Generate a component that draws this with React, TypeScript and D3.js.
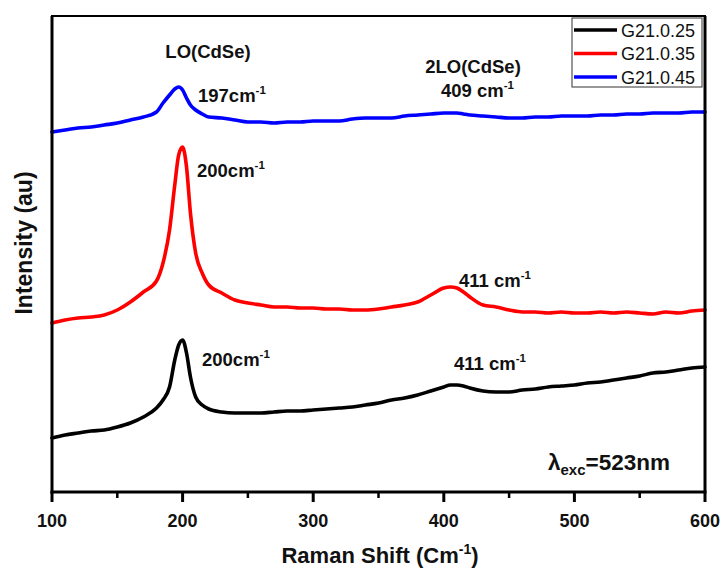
import React from "react";
import * as d3 from "d3";

const waveNumbers = [100,110,120,130,140,150,160,170,180,185,190,194,197,200,203,206,210,215,220,230,240,250,260,270,280,290,300,310,320,330,340,350,360,370,380,390,400,405,410,415,420,430,440,450,460,470,480,490,500,510,520,530,540,550,560,570,580,590,600];

const g25 = [54,57,59,61,62,65,69,75,84,92,105,132,147,152,139,115,95,87,83,80,79,79,79,80,81,81,82,83,84,85,87,89,92,94,97,101,105,107,107,106,104,101,100,100,102,103,105,106,107,109,110,112,114,116,119,120,122,124,125];
const g35 = [169,172,174,175,177,182,190,200,211,229,262,307,337,345,325,279,239,219,207,199,192,189,187,185,185,184,184,183,183,182,182,183,185,187,190,197,204,205,204,200,195,187,185,182,180,180,179,180,179,179,180,179,180,179,178,180,179,181,182];
const g45 = [360,362,364,365,367,369,372,375,380,389,397,403,405,402,394,387,382,378,375,374,372,370,370,369,370,370,371,371,371,373,374,374,374,376,377,378,379,379,379,378,377,376,375,374,374,375,375,376,376,376,377,377,378,378,379,379,379,380,380];

const seriesNames = ["G21.0.25", "G21.0.35", "G21.0.45"];
const seriesColors = ["#000000", "#ff0000", "#0000ff"];
const seriesValues = [g25, g35, g45];

const xTicks = [100, 200, 300, 400, 500, 600];
const xMinorTicks = [150, 250, 350, 450, 550];

const W = 721, H = 569;
const L = 52, R = 705, T = 16, B = 492;
const FONT = "'Liberation Sans', Arial, sans-serif";

export default function App() {
  const x = d3.scaleLinear().domain([100, 600]).range([L, R]);
  const y = d3.scaleLinear().domain([0, B - T]).range([B, T]);
  const line = d3.line<number>()
    .x((_, i) => x(waveNumbers[i]))
    .y((d) => y(d))
    .curve(d3.curveMonotoneX);

  const sup = (base: string, px: number, py: number, size = 18.5) => (
    <text x={px} y={py} fontFamily={FONT} fontWeight="bold" fontSize={size} fill="#111">
      {base}
      <tspan fontSize={size * 0.62} dy={-size * 0.45}>-1</tspan>
    </text>
  );

  return (
    <svg width={W} height={H} style={{ position: "absolute", left: 0, top: 0, background: "#fff" }}>
      <rect x={0} y={0} width={W} height={H} fill="#fff" />
      {seriesValues.map((vals, i) => (
        <path key={i} d={line(vals) || ""} fill="none" stroke={seriesColors[i]} strokeWidth={3.6} strokeLinejoin="round" strokeLinecap="round" />
      ))}
      {/* frame */}
      <rect x={L} y={T} width={R - L} height={B - T} fill="none" stroke="#000" strokeWidth={2} />
      <line x1={L} x2={L} y1={T} y2={B + 1.5} stroke="#000" strokeWidth={3} />
      <line x1={L - 1.5} x2={R + 1.5} y1={B} y2={B} stroke="#000" strokeWidth={3} />
      <line x1={R} x2={R} y1={T} y2={B} stroke="#000" strokeWidth={3} />
      {xTicks.map((t) => (
        <g key={t}>
          <line x1={x(t)} x2={x(t)} y1={B} y2={B + 10} stroke="#000" strokeWidth={3} />
          <text x={x(t)} y={527} textAnchor="middle" fontFamily={FONT} fontWeight="bold" fontSize={18} fill="#111">{t}</text>
        </g>
      ))}
      {xMinorTicks.map((t) => (
        <line key={t} x1={x(t)} x2={x(t)} y1={B} y2={B + 6} stroke="#000" strokeWidth={2.5} />
      ))}
      <text x={380} y={563} textAnchor="middle" fontFamily={FONT} fontWeight="bold" fontSize={22} fill="#111">
        Raman Shift (Cm<tspan fontSize={14} dy={-9}>-1</tspan><tspan dy={9}>)</tspan>
      </text>
      <text transform="translate(32,243) rotate(-90)" textAnchor="middle" fontFamily={FONT} fontWeight="bold" fontSize={23} fill="#111">Intensity (au)</text>

      {/* annotations */}
      <text x={208} y={58} textAnchor="middle" fontFamily={FONT} fontWeight="bold" fontSize={18.5} fill="#111">LO(CdSe)</text>
      {sup("197cm", 198, 102)}
      {sup("200cm", 197, 177)}
      {sup("200cm", 202, 366)}
      {sup("411 cm", 459, 287)}
      {sup("411 cm", 454, 370)}
      <text x={473} y={73} textAnchor="middle" fontFamily={FONT} fontWeight="bold" fontSize={18.5} fill="#111">2LO(CdSe)</text>
      {sup("409 cm", 441, 97)}
      <text x={548} y={470} fontFamily={FONT} fontWeight="bold" fontSize={22.5} fill="#111">
        λ<tspan fontSize={15} dy={5}>exc</tspan><tspan dy={-5}>=523nm</tspan>
      </text>

      {/* legend */}
      <rect x={572} y={18} width={130} height={69} fill="#fff" stroke="#333" strokeWidth={1} />
      {seriesNames.map((n, i) => (
        <g key={n}>
          <line x1={574} x2={617} y1={30 + i * 23.5} y2={30 + i * 23.5} stroke={seriesColors[i]} strokeWidth={3.6} />
          <text x={621} y={30 + i * 23.5 + 6.5} fontFamily={FONT} fontSize={18} fill="#111">{n}</text>
        </g>
      ))}
    </svg>
  );
}
